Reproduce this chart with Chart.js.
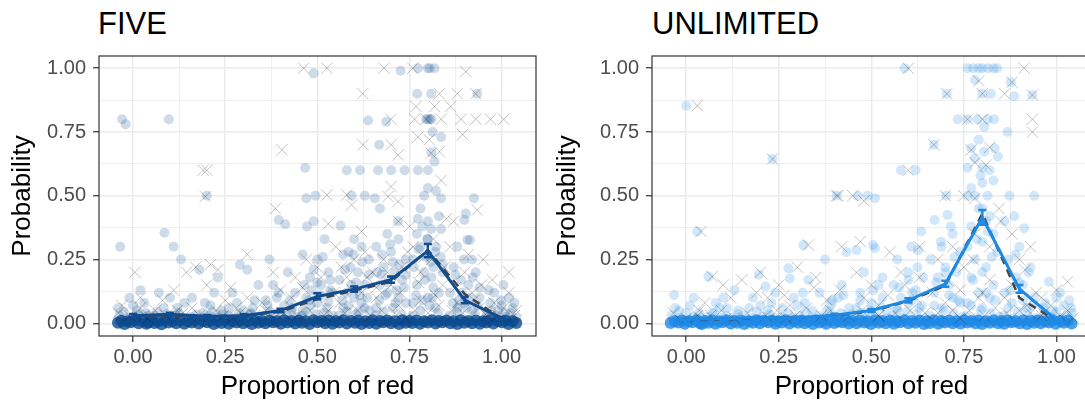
<!DOCTYPE html>
<html>
<head>
<meta charset="utf-8">
<script src="https://cdn.jsdelivr.net/npm/chart.js@4.4.0/dist/chart.umd.min.js"></script>
<style>
  html, body { margin: 0; padding: 0; background: #fff; overflow: hidden; }
  body { width: 1085px; height: 400px; position: relative; font-family: "Liberation Sans", Arial, sans-serif; }
  .panel { position: absolute; top: 0; height: 400px; }
  .ttl { position: absolute; top: 8px; font-size: 31px; line-height: 31px; color: #000; }
</style>
</head>
<body>
<div class="ttl" style="left:98px">FIVE</div>
<div class="ttl" style="left:652px">UNLIMITED</div>
<div class="panel" style="left:0;width:545px"><canvas id="five" width="545" height="400"></canvas></div>
<div class="panel" style="left:545px;width:555px"><canvas id="unlim" width="555" height="400"></canvas></div>
<script>
// ---- axes
var majorTicks = [0, 0.25, 0.5, 0.75, 1];
var minorTicks = [0.125, 0.375, 0.625, 0.875];
var tickLabels = ['0.00', '0.25', '0.50', '0.75', '1.00'];
var xTitle = 'Proportion of red';
var yTitle = 'Probability';

// ---- group means (solid line + error bars) and model (dashed)
var meanX = [0, 0.1, 0.2, 0.3, 0.4, 0.5, 0.6, 0.7, 0.8, 0.9, 1.0];

var fiveMean  = [0.03, 0.035, 0.028, 0.03, 0.05, 0.105, 0.134, 0.171, 0.284, 0.091, 0.02];
var fiveLow   = [0.024, 0.029, 0.023, 0.025, 0.043, 0.094, 0.124, 0.159, 0.259, 0.079, 0.015];
var fiveHigh  = [0.036, 0.041, 0.033, 0.035, 0.057, 0.118, 0.144, 0.183, 0.311, 0.103, 0.025];
var fiveModel = [0.025, 0.03, 0.027, 0.03, 0.045, 0.095, 0.128, 0.163, 0.287, 0.115, 0.018];

var unlimMean  = [0.015, 0.018, 0.022, 0.022, 0.032, 0.05, 0.09, 0.155, 0.415, 0.135, 0.013];
var unlimLow   = [0.011, 0.014, 0.018, 0.018, 0.027, 0.044, 0.082, 0.143, 0.386, 0.12, 0.009];
var unlimHigh  = [0.019, 0.022, 0.026, 0.026, 0.037, 0.056, 0.098, 0.167, 0.444, 0.15, 0.017];
var unlimModel = [0.012, 0.015, 0.02, 0.022, 0.03, 0.047, 0.087, 0.148, 0.43, 0.1, 0.01];

// ---- jittered observations, FIVE
var fiveDots = [
  [-0.03,0.80],[-0.02,0.78],[-0.035,0.30],[0.02,0.13],[-0.01,0.10],[0.03,0.08],[-0.04,0.06],[0.01,0.05],[0.035,0.04],[0.0,0.07],
  [0.097,0.80],[0.085,0.355],[0.11,0.30],[0.13,0.25],[0.07,0.12],[0.1,0.1],[0.12,0.06],[0.065,0.045],[0.14,0.08],[0.09,0.035],
  [0.20,0.50],[0.18,0.21],[0.23,0.18],[0.16,0.1],[0.21,0.07],[0.24,0.05],[0.19,0.04],[0.22,0.12],
  [0.29,0.23],[0.31,0.21],[0.27,0.12],[0.33,0.09],[0.26,0.06],[0.30,0.05],[0.32,0.04],[0.34,0.15],
  [0.395,0.405],[0.413,0.388],[0.37,0.25],[0.42,0.2],[0.38,0.15],[0.44,0.12],[0.36,0.09],[0.41,0.07],[0.43,0.05],[0.39,0.1],
  [0.49,0.98],[0.467,0.61],[0.47,0.49],[0.495,0.50],[0.49,0.40],[0.472,0.38],[0.52,0.33],[0.46,0.27],[0.5,0.25],[0.53,0.2],
  [0.48,0.18],[0.51,0.15],[0.54,0.12],[0.47,0.1],[0.5,0.08],[0.525,0.06],[0.46,0.05],[0.535,0.17],[0.485,0.13],
  [0.58,0.60],[0.616,0.60],[0.593,0.50],[0.629,0.50],[0.563,0.383],[0.638,0.795],[0.6,0.33],[0.62,0.3],[0.57,0.27],[0.64,0.25],
  [0.59,0.22],[0.61,0.2],[0.56,0.17],[0.63,0.15],[0.58,0.12],[0.6,0.1],[0.62,0.08],[0.57,0.06],[0.64,0.05],[0.605,0.16],[0.585,0.28],
  [0.687,0.79],[0.668,0.70],[0.665,0.60],[0.70,0.60],[0.737,0.60],[0.656,0.49],[0.67,0.45],[0.719,0.40],[0.726,0.99],[0.69,0.35],
  [0.72,0.33],[0.66,0.3],[0.7,0.28],[0.74,0.25],[0.68,0.22],[0.71,0.2],[0.73,0.17],[0.67,0.15],[0.69,0.12],[0.72,0.1],[0.74,0.08],[0.66,0.06],
  [0.705,0.24],[0.675,0.19],
  [0.773,1.0],[0.80,1.0],[0.818,1.0],[0.805,1.0],[0.771,0.90],[0.809,0.90],[0.80,0.80],[0.795,0.80],[0.805,0.80],[0.81,0.80],
  [0.813,0.75],[0.836,0.73],[0.818,0.634],[0.773,0.60],[0.80,0.60],[0.80,0.53],[0.822,0.52],[0.836,0.49],[0.773,0.41],[0.809,0.37],
  [0.836,0.37],[0.8,0.33],[0.78,0.3],[0.82,0.28],[0.76,0.25],[0.84,0.23],[0.79,0.2],[0.81,0.18],[0.77,0.15],[0.83,0.12],[0.8,0.1],
  [0.76,0.08],[0.82,0.06],[0.78,0.45],[0.83,0.42],[0.79,0.5],[0.81,0.67],[0.8,0.4],[0.77,0.35],[0.795,0.26],[0.815,0.22],[0.785,0.38],
  [0.934,0.90],[0.925,0.49],[0.903,0.43],[0.899,0.405],[0.907,0.327],[0.914,0.327],[0.88,0.3],[0.92,0.25],[0.87,0.22],[0.93,0.2],
  [0.89,0.17],[0.91,0.15],[0.86,0.12],[0.94,0.1],[0.9,0.08],[0.88,0.06],[0.92,0.05],
  [0.98,0.12],[1.02,0.1],[0.97,0.08],[1.0,0.07],[1.03,0.06],[0.99,0.05],[1.01,0.04],[0.96,0.035]
];
var fiveDotsLow = [
  [-0.038,0.03],[-0.015,0.02],[0.005,0.025],[0.025,0.018],[0.04,0.03],[-0.025,0.045],[0.015,0.035],[-0.005,0.015],
  [0.058,0.03],[0.075,0.02],[0.093,0.025],[0.108,0.018],[0.125,0.04],[0.138,0.022],[0.083,0.06],[0.115,0.03],
  [0.158,0.025],[0.172,0.035],[0.188,0.02],[0.205,0.03],[0.228,0.022],[0.242,0.035],[0.195,0.08],[0.215,0.045],
  [0.258,0.03],[0.272,0.02],[0.288,0.04],[0.305,0.025],[0.318,0.035],[0.335,0.02],[0.282,0.08],[0.325,0.06],
  [0.358,0.03],[0.372,0.045],[0.386,0.025],[0.402,0.04],[0.418,0.03],[0.432,0.06],[0.445,0.025],[0.395,0.12],[0.425,0.09],[0.365,0.07],
  [0.458,0.03],[0.47,0.045],[0.482,0.07],[0.495,0.035],[0.508,0.11],[0.518,0.04],[0.53,0.085],[0.542,0.03],[0.465,0.15],[0.49,0.21],
  [0.515,0.26],[0.535,0.13],[0.478,0.09],[0.5,0.16],
  [0.558,0.03],[0.568,0.09],[0.58,0.045],[0.592,0.15],[0.605,0.035],[0.615,0.11],[0.628,0.06],[0.64,0.19],[0.575,0.21],[0.598,0.27],
  [0.622,0.24],[0.585,0.07],[0.612,0.045],[0.635,0.1],
  [0.658,0.03],[0.668,0.09],[0.68,0.045],[0.692,0.16],[0.705,0.06],[0.715,0.13],[0.728,0.035],[0.74,0.19],[0.675,0.27],[0.698,0.31],
  [0.722,0.23],[0.685,0.11],[0.712,0.08],[0.735,0.14],[0.662,0.2],
  [0.758,0.03],[0.768,0.11],[0.78,0.05],[0.792,0.17],[0.805,0.07],[0.815,0.14],[0.828,0.04],[0.84,0.2],[0.775,0.29],[0.798,0.33],
  [0.822,0.3],[0.785,0.09],[0.812,0.1],[0.835,0.26],[0.762,0.22],[0.808,0.24],
  [0.858,0.03],[0.868,0.08],[0.88,0.045],[0.892,0.12],[0.905,0.06],[0.915,0.1],[0.928,0.035],[0.94,0.14],[0.875,0.19],[0.898,0.25],
  [0.922,0.18],[0.885,0.09],[0.935,0.07],
  [0.958,0.02],[0.972,0.05],[0.985,0.03],[0.998,0.09],[1.012,0.025],[1.025,0.04],[1.04,0.02],[0.965,0.13],[1.005,0.15],[1.035,0.08]
];
var fiveCrosses = [
  [0.463,1.0],[0.526,1.0],[0.681,1.0],[0.759,1.0],[0.903,0.987],[0.623,0.90],[0.831,0.90],[0.88,0.90],[0.93,0.90],
  [0.768,0.85],[0.818,0.85],[0.862,0.85],[0.70,0.80],[0.764,0.80],[0.795,0.80],[0.836,0.80],[0.89,0.80],[0.93,0.80],[0.97,0.80],[1.006,0.80],
  [0.894,0.74],[0.773,0.73],[0.804,0.72],[0.624,0.70],[0.70,0.70],[0.404,0.68],[0.719,0.66],[0.809,0.667],[0.831,0.673],
  [0.19,0.60],[0.2,0.6],[0.836,0.56],[0.70,0.536],[0.196,0.497],[0.526,0.503],[0.58,0.503],[0.593,0.464],[0.692,0.497],[0.719,0.477],
  [0.386,0.45],[0.53,0.39],[0.934,0.444],[0.62,0.36],[0.72,0.4],[0.75,0.38],[0.85,0.41],[0.87,0.4],
  [0.005,0.2],[0.145,0.2],[0.17,0.22],[0.21,0.23],[0.23,0.21],[0.31,0.27],[0.02,0.1],[-0.03,0.07],[0.08,0.09],[0.12,0.05],
  [0.25,0.09],[0.28,0.06],[0.35,0.08],[0.4,0.13],[0.44,0.18],[0.47,0.25],[0.5,0.22],[0.55,0.3],[0.58,0.18],[0.6,0.25],
  [0.63,0.28],[0.65,0.2],[0.68,0.25],[0.7,0.15],[0.73,0.22],[0.76,0.3],[0.78,0.2],[0.81,0.25],[0.84,0.15],[0.86,0.3],
  [0.9,0.2],[0.92,0.12],[0.95,0.25],[0.98,0.08],[1.02,0.12],[1.04,0.05],[0.5,0.1],[0.56,0.08],[0.62,0.12],[0.66,0.1],
  [0.72,0.07],[0.78,0.09],[0.82,0.11],[0.88,0.08],[0.94,0.06],[0.03,0.03],[0.27,0.02],[0.52,0.03],[0.74,0.02],[0.96,0.03]
];
var fiveCrossesLow = [
  [-0.04,0.04],[-0.01,0.03],[0.02,0.06],[0.04,0.02],[0.06,0.05],[0.09,0.03],[0.11,0.13],[0.135,0.04],[0.16,0.06],[0.18,0.03],
  [0.2,0.15],[0.225,0.05],[0.245,0.03],[0.265,0.14],[0.29,0.04],[0.31,0.1],[0.33,0.03],[0.36,0.05],[0.38,0.2],[0.41,0.04],
  [0.43,0.1],[0.445,0.03],[0.46,0.14],[0.48,0.05],[0.51,0.18],[0.53,0.05],[0.545,0.12],[0.565,0.22],[0.575,0.04],[0.595,0.13],
  [0.61,0.05],[0.635,0.18],[0.645,0.03],[0.66,0.14],[0.675,0.05],[0.69,0.2],[0.71,0.04],[0.725,0.12],[0.745,0.28],[0.765,0.05],
  [0.775,0.16],[0.79,0.26],[0.8,0.04],[0.815,0.33],[0.83,0.07],[0.845,0.22],[0.865,0.05],[0.875,0.14],[0.895,0.04],[0.91,0.27],
  [0.925,0.09],[0.945,0.15],[0.96,0.04],[0.975,0.17],[0.99,0.03],[1.005,0.06],[1.02,0.2],[1.035,0.03]
];
var fiveZeros = [
  [-0.041,0.002],[-0.023,-0.003],[-0.006,0.004],[0.015,0.0],[0.036,-0.002],[0.041,0.003],
  [0.058,0.001],[0.077,-0.004],[0.096,0.003],[0.117,0.0],[0.139,-0.002],
  [0.159,0.003],[0.178,-0.001],[0.201,0.004],[0.219,-0.003],[0.24,0.001],
  [0.26,-0.002],[0.281,0.003],[0.299,0.0],[0.322,-0.003],[0.34,0.002],
  [0.359,0.0],[0.38,0.004],[0.401,-0.002],[0.419,0.003],[0.44,-0.001],
  [0.458,0.002],[0.479,-0.003],[0.5,0.004],[0.521,0.0],[0.541,-0.002],
  [0.559,0.003],[0.58,-0.001],[0.602,0.002],[0.62,-0.003],[0.641,0.001],
  [0.66,-0.002],[0.679,0.004],[0.7,0.0],[0.722,-0.003],[0.74,0.002],
  [0.758,0.001],[0.779,-0.002],[0.8,0.003],[0.821,-0.001],[0.84,0.004],
  [0.861,0.0],[0.88,-0.003],[0.899,0.002],[0.92,0.0],[0.941,-0.002],
  [0.959,0.003],[0.978,-0.001],[1.001,0.004],[1.019,-0.003],[1.04,0.001]
];
var fiveZerosB = [
  [-0.032,0.01],[-0.014,0.008],[0.005,0.012],[0.026,0.009],[0.05,0.011],[0.068,0.008],[0.087,0.012],[0.107,0.009],
  [0.128,0.011],[0.149,0.008],[0.168,0.012],[0.19,0.009],[0.21,0.011],[0.23,0.008],[0.25,0.012],[0.27,0.009],
  [0.29,0.011],[0.311,0.008],[0.331,0.012],[0.35,0.009],[0.37,0.011],[0.39,0.008],[0.41,0.012],[0.43,0.009],
  [0.45,0.011],[0.469,0.008],[0.49,0.012],[0.511,0.009],[0.531,0.011],[0.55,0.008],[0.57,0.012],[0.591,0.009],
  [0.611,0.011],[0.631,0.008],[0.65,0.012],[0.67,0.009],[0.69,0.011],[0.711,0.008],[0.731,0.012],[0.75,0.009],
  [0.769,0.011],[0.79,0.008],[0.811,0.012],[0.83,0.009],[0.85,0.011],[0.87,0.008],[0.889,0.012],[0.91,0.009],
  [0.93,0.011],[0.95,0.008],[0.969,0.012],[0.99,0.009],[1.01,0.011],[1.03,0.008]
];

// ---- jittered observations, UNLIMITED
var unlimDots = [
  [0.0,0.853],[0.03,0.36],[-0.033,0.111],[0.01,0.07],[-0.02,0.05],[0.035,0.04],[0.02,0.1],
  [0.06,0.183],[0.13,0.13],[0.08,0.08],[0.11,0.06],[0.14,0.05],[0.1,0.1],[0.07,0.04],
  [0.233,0.644],[0.196,0.19],[0.214,0.144],[0.18,0.1],[0.23,0.08],[0.17,0.06],[0.22,0.05],[0.24,0.12],
  [0.316,0.307],[0.276,0.216],[0.28,0.176],[0.33,0.17],[0.29,0.1],[0.32,0.08],[0.26,0.06],[0.34,0.05],
  [0.406,0.50],[0.375,0.25],[0.433,0.28],[0.36,0.12],[0.41,0.1],[0.39,0.08],[0.44,0.06],[0.42,0.15],[0.38,0.05],
  [0.464,0.50],[0.49,0.50],[0.51,0.49],[0.46,0.287],[0.51,0.294],[0.505,0.307],[0.48,0.2],[0.52,0.15],[0.47,0.12],
  [0.53,0.1],[0.5,0.08],[0.46,0.06],[0.54,0.05],
  [0.59,1.0],[0.58,0.60],[0.62,0.60],[0.608,0.30],[0.626,0.287],[0.635,0.36],[0.57,0.25],[0.6,0.2],[0.64,0.18],[0.56,0.15],
  [0.62,0.13],[0.58,0.1],[0.6,0.08],[0.63,0.06],[0.57,0.05],[0.61,0.12],
  [0.704,0.90],[0.669,0.70],[0.702,0.50],[0.671,0.405],[0.706,0.425],[0.734,0.80],[0.72,0.35],[0.69,0.3],[0.74,0.28],[0.66,0.25],
  [0.7,0.22],[0.73,0.2],[0.68,0.18],[0.71,0.15],[0.67,0.12],[0.72,0.1],[0.74,0.08],[0.69,0.06],
  [0.76,1.0],[0.775,1.0],[0.79,1.0],[0.8,1.0],[0.815,1.0],[0.83,1.0],[0.84,1.0],[0.78,0.955],[0.8,0.90],[0.823,0.90],
  [0.76,0.80],[0.787,0.80],[0.814,0.80],[0.832,0.80],[0.77,0.686],[0.805,0.673],[0.833,0.686],[0.842,0.653],[0.78,0.647],[0.76,0.61],
  [0.80,0.61],[0.82,0.60],[0.76,0.50],[0.78,0.50],[0.814,0.50],[0.8,0.55],[0.79,0.45],[0.82,0.42],[0.77,0.38],[0.83,0.35],
  [0.8,0.32],[0.76,0.3],[0.84,0.28],[0.78,0.25],[0.81,0.22],[0.77,0.18],[0.83,0.15],[0.79,0.12],[0.82,0.1],[0.76,0.08],
  [0.8,0.06],[0.81,0.4],[0.79,0.72],[0.805,0.77],[0.795,0.58],
  [0.877,0.945],[0.886,0.89],[0.935,0.895],[0.868,0.75],[0.94,0.50],[0.873,0.50],[0.86,0.40],[0.886,0.42],[0.913,0.373],[0.9,0.3],
  [0.87,0.25],[0.93,0.22],[0.89,0.18],[0.91,0.15],[0.86,0.12],[0.94,0.1],[0.88,0.08],[0.92,0.06],
  [0.98,0.163],[1.0,0.1],[0.97,0.08],[1.02,0.07],[1.04,0.06],[0.99,0.05],[1.01,0.12]
];
var unlimDotsLow = [
  [-0.04,0.03],[-0.02,0.02],[0.0,0.04],[0.02,0.025],[0.04,0.02],[-0.03,0.06],[0.01,0.015],
  [0.058,0.025],[0.075,0.04],[0.092,0.02],[0.108,0.03],[0.125,0.02],[0.14,0.035],[0.09,0.06],
  [0.158,0.03],[0.175,0.02],[0.19,0.045],[0.205,0.025],[0.225,0.035],[0.242,0.02],[0.2,0.07],
  [0.258,0.025],[0.275,0.04],[0.29,0.02],[0.305,0.03],[0.322,0.045],[0.338,0.02],[0.3,0.07],[0.315,0.12],
  [0.358,0.03],[0.372,0.02],[0.388,0.045],[0.402,0.025],[0.418,0.04],[0.432,0.02],[0.445,0.035],[0.395,0.09],[0.425,0.11],
  [0.458,0.025],[0.472,0.04],[0.485,0.02],[0.498,0.05],[0.512,0.03],[0.525,0.065],[0.54,0.02],[0.47,0.09],[0.505,0.13],[0.53,0.18],
  [0.558,0.03],[0.57,0.06],[0.583,0.02],[0.596,0.045],[0.61,0.09],[0.622,0.035],[0.636,0.07],[0.645,0.02],[0.575,0.14],[0.6,0.17],[0.625,0.22],
  [0.658,0.03],[0.67,0.07],[0.683,0.02],[0.696,0.05],[0.71,0.11],[0.722,0.04],[0.735,0.09],[0.745,0.025],[0.675,0.16],[0.7,0.2],
  [0.725,0.26],[0.688,0.32],[0.715,0.38],
  [0.758,0.03],[0.77,0.07],[0.783,0.02],[0.796,0.05],[0.81,0.12],[0.822,0.04],[0.835,0.09],[0.845,0.025],[0.775,0.17],[0.8,0.2],
  [0.825,0.26],[0.785,0.33],[0.815,0.36],[0.8,0.45],[0.77,0.53],[0.83,0.56],
  [0.858,0.03],[0.87,0.06],[0.883,0.02],[0.896,0.045],[0.91,0.09],[0.922,0.035],[0.935,0.07],[0.945,0.02],[0.875,0.13],[0.9,0.16],
  [0.925,0.2],[0.89,0.27],
  [0.958,0.02],[0.972,0.035],[0.985,0.025],[1.0,0.045],[1.015,0.02],[1.028,0.03],[1.042,0.04],[0.965,0.06],[1.035,0.09]
];
var unlimCrosses = [
  [0.03,0.853],[0.233,0.644],[0.04,0.36],[0.07,0.183],[0.33,0.307],[0.406,0.50],[0.6,1.0],[0.6,0.60],[0.913,1.0],[0.79,0.95],
  [0.88,0.945],[0.704,0.90],[0.8,0.90],[0.86,0.90],[0.935,0.895],[0.935,0.80],[0.935,0.75],[0.76,0.80],[0.8,0.80],[0.669,0.70],
  [0.77,0.68],[0.82,0.69],[0.78,0.63],[0.81,0.62],[0.41,0.5],[0.45,0.5],[0.48,0.48],[0.7,0.5],[0.75,0.5],[0.78,0.49],
  [1.03,0.163],[0.1,0.15],[0.15,0.17],[0.2,0.2],[0.25,0.15],[0.3,0.22],[0.35,0.18],[0.42,0.3],[0.47,0.32],[0.55,0.28],
  [0.58,0.2],[0.63,0.3],[0.68,0.25],[0.72,0.3],[0.75,0.22],[0.78,0.35],[0.82,0.3],[0.85,0.4],[0.88,0.35],[0.9,0.25],
  [0.93,0.3],[0.96,0.1],[1.0,0.13],[0.05,0.08],[0.12,0.1],[0.22,0.1],[0.28,0.07],[0.38,0.09],[0.48,0.1],[0.52,0.07],
  [0.62,0.1],[0.7,0.08],[0.8,0.12],[0.86,0.1],[0.92,0.07],[0.03,0.03],[0.27,0.02],[0.52,0.03],[0.74,0.02],[0.96,0.03]
];
var unlimCrossesLow = [
  [-0.035,0.04],[0.0,0.02],[0.035,0.05],[0.065,0.03],[0.095,0.05],[0.13,0.02],[0.165,0.04],[0.19,0.12],[0.215,0.03],[0.245,0.05],
  [0.265,0.11],[0.295,0.03],[0.325,0.06],[0.345,0.14],[0.365,0.03],[0.39,0.05],[0.415,0.13],[0.44,0.03],[0.46,0.2],[0.475,0.05],
  [0.5,0.15],[0.52,0.03],[0.545,0.11],[0.565,0.04],[0.59,0.15],[0.605,0.05],[0.63,0.18],[0.645,0.04],[0.665,0.12],[0.68,0.04],
  [0.705,0.17],[0.72,0.05],[0.74,0.13],[0.765,0.05],[0.775,0.25],[0.79,0.1],[0.805,0.03],[0.82,0.17],[0.835,0.06],[0.845,0.45],
  [0.865,0.04],[0.88,0.15],[0.9,0.05],[0.915,0.21],[0.93,0.04],[0.945,0.12],[0.965,0.04],[0.985,0.07],[1.01,0.03],[1.03,0.05],[1.045,0.02]
];
var unlimZeros = [
  [-0.042,0.001],[-0.021,0.003],[-0.004,-0.002],[0.017,0.004],[0.038,0.0],[0.042,-0.003],
  [0.06,0.002],[0.079,-0.002],[0.098,0.004],[0.12,-0.001],[0.138,0.002],
  [0.157,-0.003],[0.18,0.002],[0.199,0.0],[0.221,0.004],[0.241,-0.002],
  [0.258,0.003],[0.279,-0.001],[0.302,0.002],[0.32,0.0],[0.342,-0.003],
  [0.36,0.003],[0.378,-0.002],[0.4,0.001],[0.421,0.004],[0.439,-0.001],
  [0.46,0.0],[0.481,0.003],[0.499,-0.003],[0.52,0.002],[0.539,0.0],
  [0.561,-0.002],[0.578,0.004],[0.6,0.0],[0.619,0.002],[0.642,-0.003],
  [0.658,0.001],[0.681,-0.002],[0.699,0.003],[0.72,0.0],[0.741,-0.001],
  [0.76,0.003],[0.781,0.0],[0.799,-0.003],[0.82,0.002],[0.842,0.0],
  [0.859,-0.002],[0.879,0.004],[0.901,0.0],[0.921,-0.003],[0.94,0.002],
  [0.958,0.0],[0.98,0.003],[0.998,-0.002],[1.02,0.002],[1.041,-0.001]
];
var unlimZerosB = [
  [-0.031,0.009],[-0.012,0.011],[0.007,0.008],[0.028,0.012],[0.051,0.009],[0.07,0.011],[0.089,0.008],[0.109,0.012],
  [0.129,0.009],[0.148,0.011],[0.169,0.008],[0.189,0.012],[0.211,0.009],[0.231,0.011],[0.249,0.008],[0.269,0.012],
  [0.291,0.009],[0.312,0.011],[0.33,0.008],[0.351,0.012],[0.369,0.009],[0.389,0.011],[0.411,0.008],[0.43,0.012],
  [0.449,0.009],[0.47,0.011],[0.49,0.008],[0.51,0.012],[0.53,0.009],[0.551,0.011],[0.569,0.008],[0.59,0.012],
  [0.61,0.009],[0.63,0.011],[0.651,0.008],[0.669,0.012],[0.69,0.009],[0.71,0.011],[0.73,0.008],[0.751,0.012],
  [0.77,0.009],[0.79,0.011],[0.81,0.008],[0.831,0.012],[0.851,0.009],[0.869,0.011],[0.89,0.008],[0.911,0.012],
  [0.931,0.009],[0.949,0.011],[0.97,0.008],[0.99,0.012],[1.011,0.009],[1.031,0.011]
];

function pts(list) {
  return list.map(function(p) { return {x: p[0], y: p[1]}; });
}
function linePts(xs, ys) {
  return xs.map(function(x, i) { return {x: x, y: ys[i]}; });
}
function isMajor(v) { return majorTicks.indexOf(v) >= 0; }

var allTicks = majorTicks.concat(minorTicks).sort(function(a, b) { return a - b; });

// panel frame drawn over everything
var framePlugin = {
  id: 'frame',
  afterDraw: function(chart) {
    var a = chart.chartArea, c = chart.ctx;
    c.save();
    c.strokeStyle = '#333333';
    c.lineWidth = 1.2;
    c.strokeRect(a.left, a.top, a.right - a.left, a.bottom - a.top);
    c.restore();
  }
};

// error bars on the group means
var errbarPlugin = {
  id: 'errbars',
  afterDatasetsDraw: function(chart, args, opts) {
    var xs = chart.scales.x, ys = chart.scales.y, c = chart.ctx;
    c.save();
    c.strokeStyle = opts.color;
    c.lineWidth = 2.5;
    opts.x.forEach(function(v, i) {
      var px = xs.getPixelForValue(v);
      var lo = ys.getPixelForValue(opts.low[i]);
      var hi = ys.getPixelForValue(opts.high[i]);
      c.beginPath();
      c.moveTo(px, lo); c.lineTo(px, hi);
      c.moveTo(px - 4, lo); c.lineTo(px + 4, lo);
      c.moveTo(px - 4, hi); c.lineTo(px + 4, hi);
      c.stroke();
    });
    c.restore();
  }
};

function axisCommon() {
  return {
    type: 'linear',
    border: { display: false },
    afterBuildTicks: function(s) { s.ticks = allTicks.map(function(v) { return {value: v}; }); },
    grid: {
      color: '#ebebeb',
      lineWidth: function(ctx) { return ctx.tick && isMajor(ctx.tick.value) ? 1.5 : 0.8; },
      tickColor: function(ctx) { return ctx.tick && isMajor(ctx.tick.value) ? '#333333' : 'rgba(0,0,0,0)'; },
      tickLength: 6,
      tickWidth: 1.2
    },
    ticks: {
      autoSkip: false,
      maxRotation: 0,
      color: '#4d4d4d',
      font: { family: 'Liberation Sans', size: 20 },
      callback: function(value) {
        var i = majorTicks.indexOf(value);
        return i >= 0 ? tickLabels[i] : '';
      }
    }
  };
}

function makePanel(id, cfg) {
  var x = axisCommon();
  x.min = -0.0925; x.max = 1.0935;
  x.ticks.padding = 3;
  x.title = { display: true, text: xTitle, color: '#000', font: { family: 'Liberation Sans', size: 26, lineHeight: 1.0 }, padding: { top: 0, bottom: 0 } };
  x.afterFit = function(s) { s.height = 64; };

  var y = axisCommon();
  y.min = -0.0498; y.max = 1.048;
  y.ticks.padding = 7;
  y.title = { display: true, text: yTitle, color: '#000', font: { family: 'Liberation Sans', size: 26, lineHeight: 1.0 }, padding: { top: 10, bottom: 0 } };
  y.afterFit = function(s) { s.width = cfg.yWidth; };

  var circle = { pointStyle: 'circle', pointRadius: 5, pointBorderWidth: 0, pointBorderColor: 'rgba(0,0,0,0)', pointBackgroundColor: cfg.dotFill };
  var cross = { pointStyle: 'crossRot', pointRadius: 8, pointBorderWidth: 1, pointBorderColor: 'rgba(0,0,0,0.24)', pointBackgroundColor: 'rgba(0,0,0,0)' };
  var zero = { pointStyle: 'circle', pointRadius: 6, pointBorderWidth: 0, pointBorderColor: 'rgba(0,0,0,0)', pointBackgroundColor: cfg.zeroFill };

  return new Chart(document.getElementById(id), {
    type: 'scatter',
    data: {
      datasets: [
        { data: linePts(meanX, cfg.mean), showLine: true, borderColor: cfg.lineColor, borderWidth: 3, pointRadius: 0, order: 0 },
        { data: linePts(meanX, cfg.model), showLine: true, borderColor: '#444444', borderWidth: 2.5, borderDash: [8, 6], pointRadius: 0, order: 1 },
        Object.assign({ data: pts(cfg.crosses.concat(cfg.crossesLow)), order: 2 }, cross),
        Object.assign({ data: pts(cfg.zeros.concat(cfg.zerosB)), order: 3 }, zero),
        Object.assign({ data: pts(cfg.dots.concat(cfg.dotsLow)), order: 4 }, circle)
      ]
    },
    options: {
      responsive: false,
      animation: false,
      events: [],
      layout: { padding: { top: 56, right: cfg.padRight, left: 0, bottom: 0 } },
      plugins: {
        legend: { display: false },
        tooltip: { enabled: false },
        errbars: { x: meanX, low: cfg.low, high: cfg.high, color: cfg.lineColor }
      },
      scales: { x: x, y: y }
    },
    plugins: [errbarPlugin, framePlugin]
  });
}

makePanel('five', {
  yWidth: 99, padRight: 6,
  mean: fiveMean, low: fiveLow, high: fiveHigh, model: fiveModel,
  dots: fiveDots, dotsLow: fiveDotsLow, crosses: fiveCrosses, crossesLow: fiveCrossesLow,
  zeros: fiveZeros, zerosB: fiveZerosB,
  lineColor: '#0f4c92', dotFill: 'rgba(11,74,143,0.2)', zeroFill: 'rgba(11,74,143,0.8)'
});
makePanel('unlim', {
  yWidth: 107, padRight: 8,
  mean: unlimMean, low: unlimLow, high: unlimHigh, model: unlimModel,
  dots: unlimDots, dotsLow: unlimDotsLow, crosses: unlimCrosses, crossesLow: unlimCrossesLow,
  zeros: unlimZeros, zerosB: unlimZerosB,
  lineColor: '#1e88e5', dotFill: 'rgba(30,136,229,0.2)', zeroFill: 'rgba(30,136,229,0.8)'
});
</script>
</body>
</html>
